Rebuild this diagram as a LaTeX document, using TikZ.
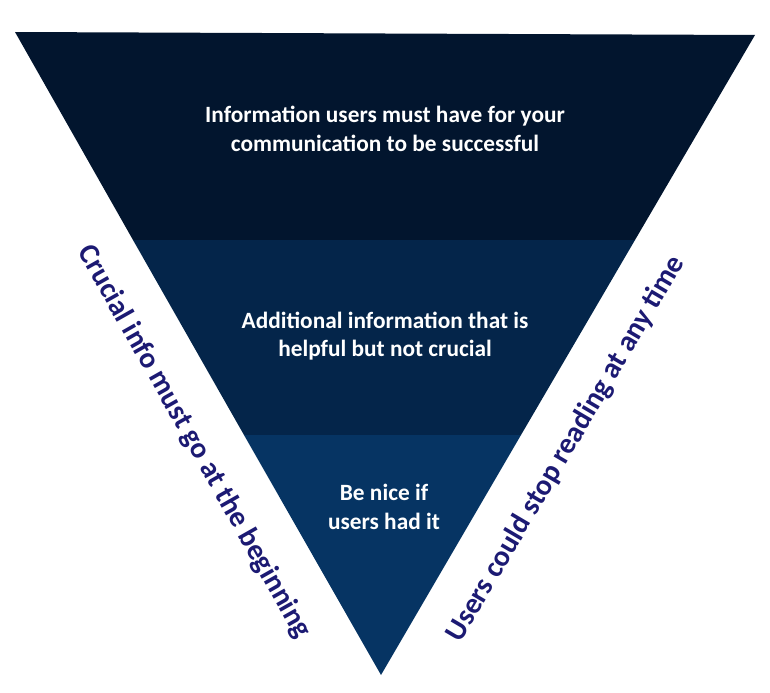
\documentclass[tikz,border=0pt]{standalone}
\usepackage{fontspec}
\setmainfont{Carlito}
\definecolor{topband}{HTML}{02152E}
\definecolor{midband}{HTML}{04254A}
\definecolor{lowband}{HTML}{063463}
\definecolor{sidetext}{HTML}{1C1A73}
\tikzset{bandtext/.style = {text=white, font=\bfseries\fontsize{17.5}{21.5}\selectfont, align=center}}
\tikzset{sidelabel/.style = {text=sidetext, font=\bfseries\fontsize{22}{24}\selectfont}}

\begin{document}
\begin{tikzpicture}[x=0.75pt, y=-0.75pt]
	\useasboundingbox (0,0) rectangle (770,692);
	\fill[topband] (15,32) -- (755,35) -- (635,240) -- (133,240) -- cycle;
	\fill[midband] (133,240) -- (635,240) -- (521,435) -- (244,435) -- cycle;
	\fill[lowband] (244,435) -- (521,435) -- (381,675) -- cycle;

	\node[bandtext](top) at (385,129){Information users must have for your\\communication to be successful};
	\node[bandtext](mid) at (385,336){Additional information that is\\helpful but not crucial};
	\node[bandtext](low) at (384,507){Be nice if\\users had it};

	\node[sidelabel, rotate=-60.5](left) at (194,442){Crucial info must go at the beginning};
	\node[sidelabel, rotate=59.5](right) at (566,449){Users could stop reading at any time};
\end{tikzpicture}
\end{document}
